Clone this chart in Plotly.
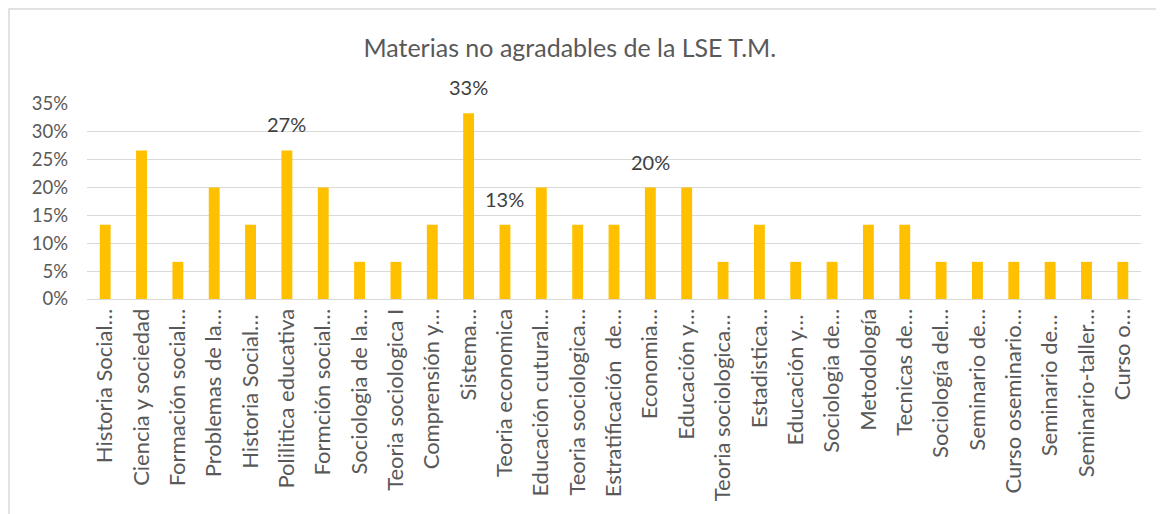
import plotly.graph_objects as go

materias = [
    "Historia Social…", "Ciencia y sociedad", "Formación social…", "Problemas de la…",
    "Historia Social… ", "Polilitica educativa", "Formción social…", "Sociologia de la…",
    "Teoria sociologica I", "Comprensión y…", "Sistema…", "Teoria economica",
    "Educación cutural…", "Teoria sociologica…", "Estratificación  de…", "Economia…",
    "Educación y…", "Teoria sociologica… ", "Estadistica…", "Educación y… ",
    "Sociologia de…", "Metodología", "Tecnicas de…", "Sociología del…",
    "Seminario de…", "Curso oseminario…", "Seminario de… ", "Seminario-taller…",
    "Curso o…",
]
porcentajes = [
    0.1333, 0.2667, 0.0667, 0.2000, 0.1333, 0.2667, 0.2000, 0.0667,
    0.0667, 0.1333, 0.3333, 0.1333, 0.2000, 0.1333, 0.1333, 0.2000,
    0.2000, 0.0667, 0.1333, 0.0667, 0.0667, 0.1333, 0.1333, 0.0667,
    0.0667, 0.0667, 0.0667, 0.0667, 0.0667,
]
# barras con etiqueta de datos
etiquetadas = [5, 10, 11, 15]

GRIS = "#595959"
FUENTE = "Lato"

fig = go.Figure(go.Bar(
    x=materias,
    y=porcentajes,
    marker=dict(color="#FFC000", line=dict(width=0)),
    hoverinfo="x+y",
))

for i in etiquetadas:
    fig.add_annotation(
        x=materias[i], y=porcentajes[i], xref="x", yref="y",
        text=f"{porcentajes[i]:.0%}", showarrow=False,
        yanchor="middle", yshift=26,
        font=dict(family=FUENTE, size=20, color="#404040"),
    )

# marco del gráfico
fig.add_shape(
    type="rect", xref="paper", yref="paper",
    x0=-0.074, x1=1.05, y0=-1.2, y1=1.487,
    line=dict(color="#D9D9D9", width=1.5), layer="below",
)

fig.update_layout(
    width=1156, height=506,
    margin=dict(l=79, r=23, t=96, b=215),
    plot_bgcolor="white", paper_bgcolor="white",
    bargap=0.7,
    showlegend=False,
    title=dict(
        text="Materias no agradables de la LSE T.M.",
        x=0.486, xanchor="center", y=0.92, yanchor="middle",
        font=dict(family=FUENTE, size=25, color=GRIS),
    ),
    font=dict(family=FUENTE, color=GRIS),
)
fig.update_yaxes(
    range=[0, 0.35], dtick=0.05, tickformat=".0%",
    gridcolor="#D9D9D9", gridwidth=1, zeroline=False,
    showline=False, ticks="", ticklabelstandoff=18,
    tickfont=dict(family=FUENTE, size=18.5, color=GRIS),
)
fig.update_xaxes(
    tickangle=-90, showline=True, linecolor="#D9D9D9", linewidth=1,
    ticks="", tickfont=dict(family=FUENTE, size=22, color=GRIS),
)

fig.write_html("out.html")
